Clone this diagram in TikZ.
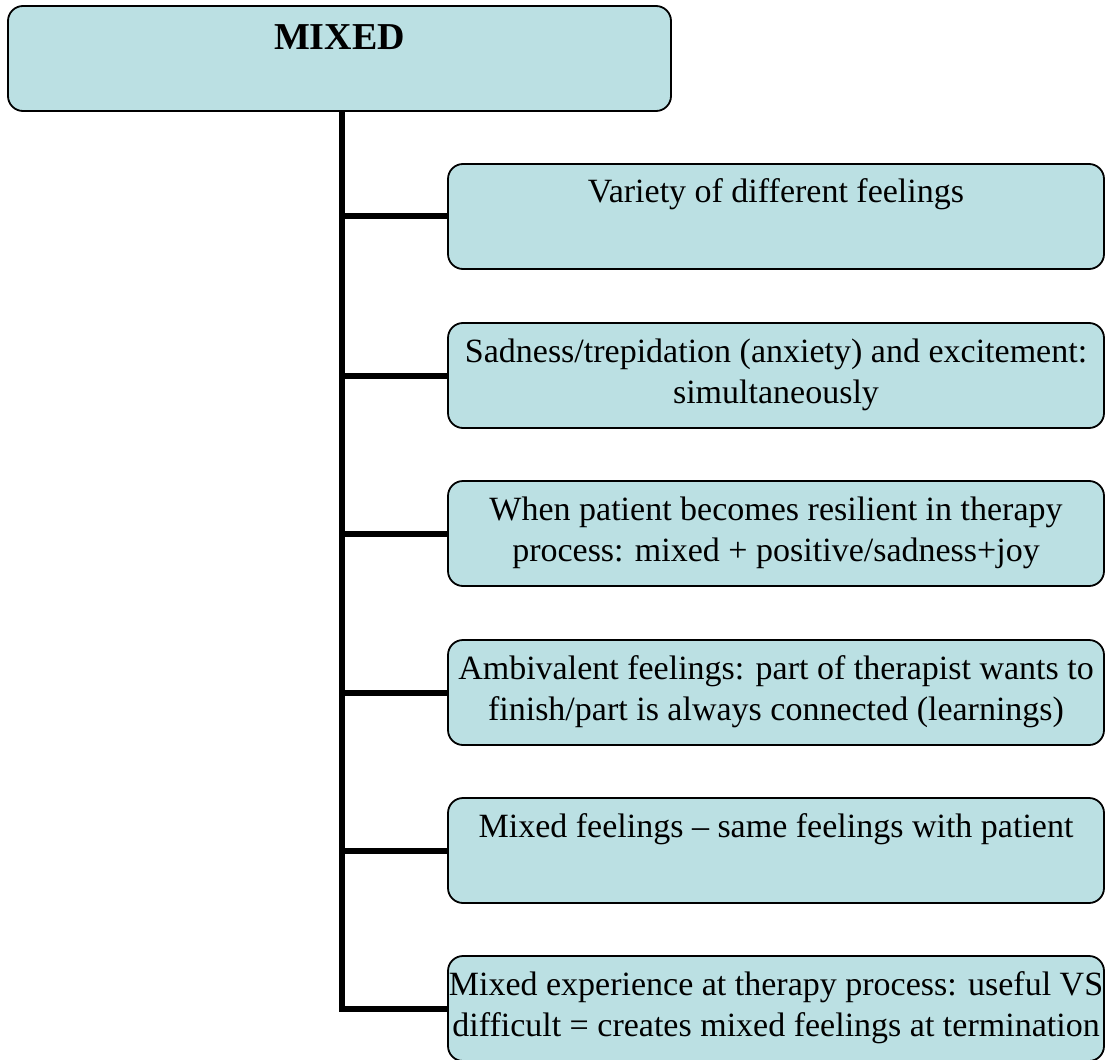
\documentclass[tikz,border=0pt]{standalone}
\usepackage{fontspec}
\setmainfont{Liberation Serif}
\definecolor{boxblue}{RGB}{187,224,227}
\newcommand{\boxtext}[2][656pt]{\parbox[t][77pt][t]{#1}{\centering\fontsize{34}{41}\selectfont\rule{0pt}{25pt}#2}}
\begin{document}
\begin{tikzpicture}[x=1pt,y=-1pt,
  card/.style={draw=black,line width=1.8pt,fill=boxblue,rounded corners=15pt,inner xsep=0pt,inner ysep=14pt,minimum width=656pt,minimum height=105pt},
  link/.style={line width=6pt}]
\useasboundingbox (0,0) rectangle (1107,1059);
\node[card,minimum width=663pt] (mixed) at (339.5,58.5) {\parbox[t][77pt][t]{663pt}{\centering\fontsize{38}{44}\selectfont\bfseries\rule{0pt}{30pt}MIXED}};
\node[card] (b1) at (776,216.5) {\boxtext{Variety of different feelings}};
\node[card] (b2) at (776,375.5) {\boxtext{Sadness/trepidation (anxiety) and excitement:\\ simultaneously}};
\node[card] (b3) at (776,533.5) {\boxtext{When patient becomes resilient in therapy\\ process: mixed + positive/sadness+joy}};
\node[card] (b4) at (776,692.5) {\boxtext{Ambivalent feelings: part of therapist wants to\\ finish/part is always connected (learnings)}};
\node[card] (b5) at (776,850.5) {\boxtext{Mixed feelings -- same feelings with patient}};
\node[card] (b6) at (776,1008.5) {\boxtext{Mixed experience at therapy process: useful VS\\ difficult = creates mixed feelings at termination}};
\coordinate (trunk) at ([xshift=2.5pt]mixed.south);
\draw[link] (trunk) |- (b6.west);
\draw[link] (b1.west) -- (b1.west -| trunk);
\draw[link] (b2.west) -- (b2.west -| trunk);
\draw[link] (b3.west) -- (b3.west -| trunk);
\draw[link] (b4.west) -- (b4.west -| trunk);
\draw[link] (b5.west) -- (b5.west -| trunk);
\end{tikzpicture}
\end{document}
